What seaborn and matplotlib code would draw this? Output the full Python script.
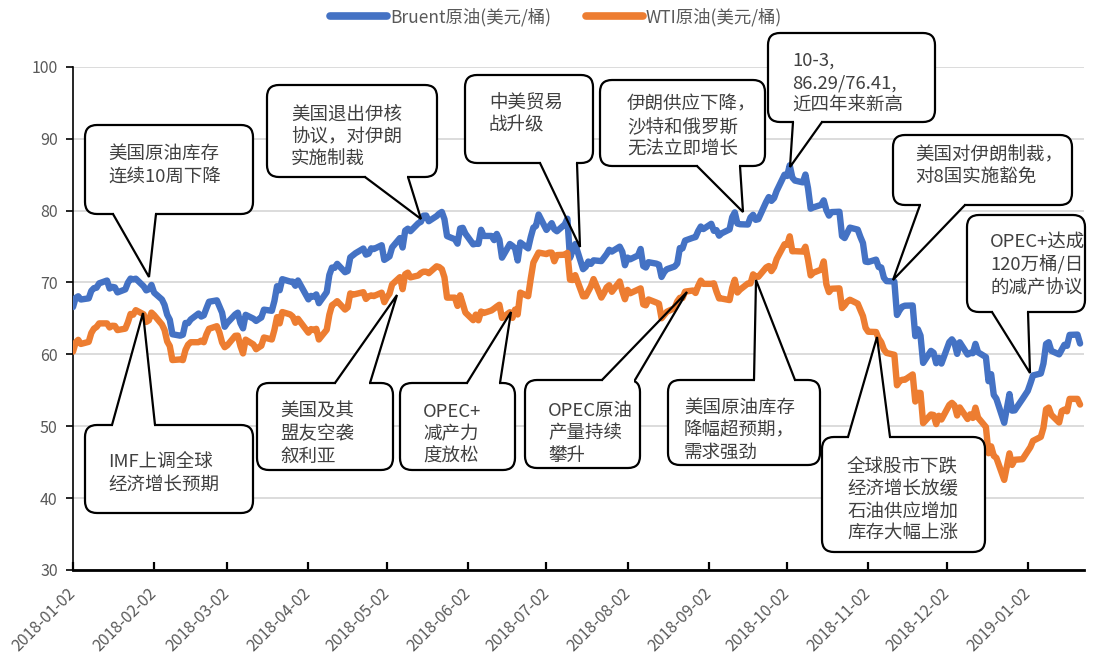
import numpy as np
import pandas as pd
import matplotlib
matplotlib.use("Agg")
import matplotlib.pyplot as plt
import matplotlib.dates as mdates
import matplotlib.transforms as mtransforms
from matplotlib.patches import FancyBboxPatch, Polygon
from matplotlib.lines import Line2D
import seaborn as sns

# ---------------- data ----------------
holidays = ["2018-03-30", "2018-12-25", "2019-01-01"]
trade_days = pd.bdate_range("2018-01-02", "2019-01-22")
trade_days = trade_days[~trade_days.isin(pd.to_datetime(holidays))]

brent_2018_01 = [66.57, 67.84, 68.07, 67.62, 67.78, 68.82, 69.20, 69.26, 69.87, 70.26, 69.15, 69.38, 69.31, 68.61, 69.03, 69.96, 70.53, 70.42, 70.52, 69.46, 68.89, 69.05]
brent_2018_02 = [69.65, 68.58, 67.62, 66.86, 65.51, 64.81, 62.79, 62.59, 62.72, 64.36, 64.33, 64.84, 65.67, 65.25, 65.42, 66.39, 67.31, 67.50, 66.63, 65.78]
brent_2018_03 = [63.83, 64.37, 65.54, 65.79, 64.34, 63.61, 65.49, 64.95, 64.64, 64.89, 65.12, 66.21, 66.05, 67.42, 69.47, 68.91, 70.45, 70.12, 70.11, 69.53, 70.27]
brent_2018_04 = [67.64, 68.12, 68.02, 68.33, 67.11, 68.65, 71.04, 72.06, 72.02, 72.58, 71.42, 71.58, 73.48, 73.78, 74.06, 74.71, 73.86, 74.00, 74.74, 74.64, 75.17]
brent_2018_05 = [73.13, 73.36, 73.62, 74.87, 76.17, 74.85, 77.21, 77.47, 77.12, 78.23, 78.43, 79.28, 79.30, 78.51, 79.22, 79.57, 79.80, 78.79, 76.44, 76.00, 75.39, 77.50, 77.59]
brent_2018_06 = [76.79, 75.29, 75.38, 75.36, 77.32, 76.46, 76.46, 75.88, 76.74, 75.94, 73.44, 75.34, 75.08, 74.74, 73.05, 75.55, 74.73, 76.31, 77.62, 77.85, 79.44]
brent_2018_07 = [77.30, 77.76, 78.24, 77.39, 77.11, 78.07, 78.86, 73.40, 74.45, 75.33, 71.84, 72.16, 72.90, 72.58, 73.07, 72.96, 73.44, 73.93, 74.54, 74.29, 74.97, 74.25]
brent_2018_08 = [72.39, 73.45, 73.21, 73.75, 74.65, 72.28, 72.07, 72.81, 72.61, 72.46, 70.76, 71.43, 71.83, 72.21, 72.63, 74.78, 74.73, 75.82, 76.21, 76.31, 77.14, 77.77, 77.42]
brent_2018_09 = [78.15, 77.17, 77.27, 76.50, 76.83, 77.37, 79.06, 79.74, 78.18, 78.09, 78.05, 79.03, 79.40, 78.70, 78.80, 81.20, 81.87, 81.34, 81.72, 82.72]
brent_2018_10 = [84.98, 84.80, 86.29, 84.58, 84.16, 83.91, 85.00, 83.09, 80.26, 80.43, 80.78, 81.41, 80.05, 79.29, 79.78, 79.83, 76.44, 76.17, 76.89, 77.62, 77.34, 76.34, 75.47]
brent_2018_11 = [72.89, 72.83, 73.17, 72.13, 72.07, 70.65, 70.18, 70.12, 65.47, 66.12, 66.62, 66.76, 66.79, 62.53, 63.48, 62.60, 58.80, 60.48, 60.21, 58.76, 59.51, 58.71]
brent_2018_12 = [61.69, 62.08, 61.56, 60.06, 61.67, 59.97, 60.20, 60.15, 61.45, 60.28, 59.61, 56.26, 57.24, 54.35, 53.82, 50.47, 54.47, 52.16, 52.20, 53.80]
brent_2019_01 = [54.91, 55.95, 57.06, 57.33, 58.72, 61.44, 61.68, 60.48, 59.99, 60.64, 61.32, 61.18, 62.70, 62.74, 61.50]

wti_2018_01 = [60.37, 61.63, 62.01, 61.44, 61.73, 62.96, 63.57, 63.80, 64.30, 64.30, 63.73, 63.97, 63.95, 63.37, 63.57, 64.47, 65.61, 65.51, 66.14, 65.56, 64.50, 64.73]
wti_2018_02 = [65.80, 65.45, 64.15, 63.39, 61.79, 61.15, 59.20, 59.29, 59.19, 60.60, 61.34, 61.68, 61.68, 61.90, 61.68, 62.77, 63.55, 63.91, 63.01, 61.64]
wti_2018_03 = [60.99, 61.25, 62.57, 62.60, 61.15, 60.12, 62.04, 61.36, 60.71, 60.96, 61.19, 62.34, 62.06, 63.40, 65.17, 64.30, 65.88, 65.55, 65.25, 64.38, 64.94]
wti_2018_04 = [63.01, 63.51, 63.37, 63.54, 62.06, 63.42, 65.51, 66.82, 67.07, 67.39, 66.22, 66.52, 68.47, 68.29, 68.38, 68.64, 67.70, 68.05, 68.19, 68.10, 68.57]
wti_2018_05 = [67.25, 67.93, 68.43, 69.72, 70.73, 69.06, 71.14, 71.36, 70.70, 70.96, 71.31, 71.49, 71.49, 71.28, 72.24, 72.13, 71.84, 70.71, 67.88, 67.88, 66.73, 68.21, 67.04]
wti_2018_06 = [65.81, 64.75, 65.52, 64.73, 65.95, 65.74, 66.10, 66.36, 66.64, 66.89, 65.06, 65.85, 65.07, 66.22, 65.54, 68.58, 68.08, 70.53, 72.76, 73.45, 74.15]
wti_2018_07 = [73.94, 74.14, 74.14, 72.94, 73.80, 73.85, 74.11, 70.38, 70.33, 71.01, 68.06, 68.08, 68.76, 69.46, 70.46, 67.89, 68.52, 69.30, 69.61, 68.69, 70.13, 68.76]
wti_2018_08 = [67.66, 68.96, 68.49, 69.01, 69.17, 66.94, 66.81, 67.63, 67.20, 67.04, 65.01, 65.46, 65.91, 66.43, 67.35, 67.86, 67.83, 68.72, 68.87, 68.53, 69.51, 70.25, 69.80]
wti_2018_09 = [69.80, 69.87, 68.72, 67.77, 67.75, 67.54, 69.25, 70.37, 68.59, 68.99, 69.85, 69.85, 71.12, 70.80, 70.78, 72.08, 72.28, 71.57, 72.12, 73.25]
wti_2018_10 = [75.30, 75.23, 76.41, 74.33, 74.34, 74.29, 74.96, 73.17, 70.97, 71.34, 71.78, 72.92, 69.75, 68.65, 69.12, 69.17, 66.43, 66.82, 67.33, 67.59, 67.04, 66.18, 65.31]
wti_2018_11 = [63.69, 63.14, 63.10, 62.21, 61.67, 60.67, 60.19, 59.93, 55.69, 56.25, 56.46, 56.46, 57.20, 53.43, 54.63, 54.63, 50.42, 51.63, 51.56, 50.29, 51.45, 50.93]
wti_2018_12 = [52.95, 53.25, 52.89, 51.49, 52.61, 51.00, 51.65, 51.15, 52.58, 51.20, 49.88, 46.24, 47.20, 45.88, 45.59, 42.53, 46.22, 44.61, 45.33, 45.41]
wti_2019_01 = [46.54, 47.09, 47.96, 48.52, 49.78, 52.36, 52.59, 51.59, 50.51, 52.11, 52.31, 52.07, 53.80, 53.80, 53.01]

brent = (brent_2018_01 + brent_2018_02 + brent_2018_03 + brent_2018_04 + brent_2018_05 + brent_2018_06
         + brent_2018_07 + brent_2018_08 + brent_2018_09 + brent_2018_10 + brent_2018_11 + brent_2018_12 + brent_2019_01)
wti = (wti_2018_01 + wti_2018_02 + wti_2018_03 + wti_2018_04 + wti_2018_05 + wti_2018_06
       + wti_2018_07 + wti_2018_08 + wti_2018_09 + wti_2018_10 + wti_2018_11 + wti_2018_12 + wti_2019_01)

series_names = ["Bruent原油(美元/桶)", "WTI原油(美元/桶)"]
series_colors = ["#4472C4", "#ED7D31"]
y_ticks = [30, 40, 50, 60, 70, 80, 90, 100]

callout_texts = [
    "美国原油库存\n连续10周下降",
    "美国退出伊核\n协议，对伊朗\n实施制裁",
    "中美贸易\n战升级",
    "伊朗供应下降，\n沙特和俄罗斯\n无法立即增长",
    "10-3,\n86.29/76.41,\n近四年来新高",
    "美国对伊朗制裁，\n对8国实施豁免",
    "OPEC+达成\n120万桶/日\n的减产协议",
    "IMF上调全球\n经济增长预期",
    "美国及其\n盟友空袭\n叙利亚",
    "OPEC+\n减产力\n度放松",
    "OPEC原油\n产量持续\n攀升",
    "美国原油库存\n降幅超预期，\n需求强劲",
    "全球股市下跌\n经济增长放缓\n石油供应增加\n库存大幅上涨",
]

# ---------------- figure ----------------
sns.set_theme(style="white")
plt.rcParams["font.family"] = ["Noto Sans CJK SC", "DejaVu Sans"]
plt.rcParams["axes.unicode_minus"] = False

W, H = 1103, 654
fig = plt.figure(figsize=(W / 100, H / 100), dpi=100)
ax_left, ax_right, ax_top, ax_bottom = 73, 1084, 66.7, 570
ax = fig.add_axes([ax_left / W, (H - ax_bottom) / H, (ax_right - ax_left) / W, (ax_bottom - ax_top) / H])

n = len(trade_days)
assert len(brent) == n and len(wti) == n, (len(brent), len(wti), n)
df = pd.DataFrame({
    "date": list(trade_days) * 2,
    "price": brent + wti,
    "series": [series_names[0]] * n + [series_names[1]] * n,
})

sns.lineplot(data=df, x="date", y="price", hue="series", hue_order=series_names,
             palette=series_colors, linewidth=4.6, ax=ax, zorder=3)

start = pd.Timestamp("2018-01-02")
ax.set_xlim(mdates.date2num(start), mdates.date2num(start) + 386.5)
ax.set_ylim(30, 100)
ax.set_yticks(y_ticks)
ax.xaxis.set_major_locator(mdates.MonthLocator(bymonthday=2))
ax.xaxis.set_major_formatter(mdates.DateFormatter("%Y-%m-%d"))
ax.set_xlabel("")
ax.set_ylabel("")

ax.grid(axis="y", color="#D9D9D9", linewidth=1.3)
ax.grid(axis="x", visible=False)
ax.set_axisbelow(True)
for s in ["top", "right"]:
    ax.spines[s].set_visible(False)
ax.spines["left"].set_color("black")
ax.spines["left"].set_linewidth(1.2)
ax.spines["bottom"].set_color("black")
ax.spines["bottom"].set_linewidth(2.0)
ax.tick_params(axis="y", direction="out", length=5, width=1.2, color="black",
               labelsize=11.5, labelcolor="#595959", pad=6, left=True)
ax.tick_params(axis="x", direction="in", length=6, width=1.6, color="black",
               labelsize=11.5, labelcolor="#595959", pad=15, bottom=True)
for lab in ax.get_xticklabels():
    lab.set_rotation(45)
    lab.set_ha("right")
    lab.set_rotation_mode("anchor")
    lab.set_va("center")

# legend at top
if ax.get_legend() is not None:
    ax.get_legend().remove()
leg_handles = [Line2D([0], [0], color=c, linewidth=5.5, solid_capstyle="round") for c in series_colors]
fig.legend(leg_handles, series_names, loc="center", bbox_to_anchor=(556 / W, 1 - 17 / H),
           bbox_transform=fig.transFigure, ncol=2, frameon=False, fontsize=12.5,
           handlelength=3.3, handletextpad=0.15, columnspacing=2.0, labelcolor="#595959")

# ---------------- callouts (pixel layout, origin top-left) ----------------
pix = mtransforms.Affine2D().scale(1 / W, -1 / H).translate(0, 1) + fig.transFigure

callout_layout = [
    # x0, y0, x1, y1, text_x, text_y, base_x1, base_x2, side, tip_x, tip_y
    (85, 125, 253, 214, 108, 165, 113, 156, "bottom", 149, 277),
    (267, 85, 437, 177, 291, 137, 365, 408, "bottom", 421, 219),
    (465, 75, 593, 163, 489, 114, 540, 577, "bottom", 580, 247),
    (600, 80, 765, 166, 627, 127, 697, 740, "bottom", 743, 212),
    (768, 33, 935, 122, 792, 83, 793, 822, "bottom", 790, 167),
    (893, 135, 1072, 205, 915, 167, 920, 965, "bottom", 893, 280),
    (967, 215, 1085, 312, 990, 265, 992, 1028, "bottom", 1030, 373),
    (85, 425, 253, 513, 108, 473, 112, 155, "top", 143, 313),
    (257, 383, 393, 470, 280, 434, 335, 370, "top", 397, 295),
    (400, 383, 515, 470, 423, 434, 467, 500, "top", 511, 312),
    (525, 380, 640, 468, 548, 433, 602, 635, "top", 687, 292),
    (668, 380, 820, 465, 684, 430, 754, 795, "top", 756, 280),
    (822, 437, 985, 552, 847, 500, 848, 890, "top", 877, 337),
]

for text, (x0, y0, x1, y1, tx, ty, b1, b2, side, px, py) in zip(callout_texts, callout_layout):
    box = FancyBboxPatch((x0, y0), x1 - x0, y1 - y0,
                         boxstyle="round,pad=0,rounding_size=12",
                         transform=pix, facecolor="white", edgecolor="black",
                         linewidth=1.6, zorder=5, clip_on=False)
    ax.add_patch(box)
    base = y1 if side == "bottom" else y0
    inward = -5 if side == "bottom" else 5
    wedge = Polygon([(b1, base + inward), (b1, base), (px, py), (b2, base), (b2, base + inward)],
                    closed=True, transform=pix, facecolor="white", edgecolor="none",
                    zorder=1.5, clip_on=False)
    ax.add_patch(wedge)
    mask = Polygon([(b1 + 0.8, base + inward), (b1 + 0.8, base - inward * 0.5),
                    (b2 - 0.8, base - inward * 0.5), (b2 - 0.8, base + inward)],
                   closed=True, transform=pix, facecolor="white", edgecolor="none",
                   zorder=5.5, clip_on=False)
    ax.add_patch(mask)
    ax.add_line(Line2D([b1, px, b2], [base, py, base], transform=pix, color="black",
                       linewidth=1.6, zorder=5.6, clip_on=False, solid_joinstyle="miter"))
    ax.text(tx, ty, text, transform=pix, ha="left", va="center", fontsize=13.3,
            color="#404040", linespacing=1.32, zorder=6, clip_on=False)

fig.savefig("out.png", dpi=100)
